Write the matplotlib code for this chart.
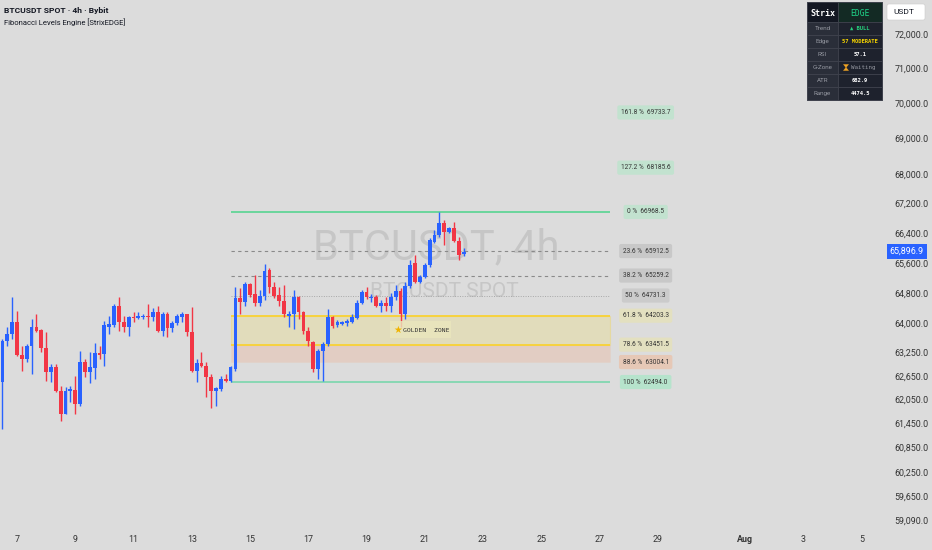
import numpy as np
import pandas as pd
import matplotlib
matplotlib.use("Agg")
import matplotlib.pyplot as plt
import matplotlib.dates as mdates
from matplotlib.patches import Rectangle, FancyBboxPatch, Polygon
from matplotlib.ticker import FixedLocator, NullLocator

# 4h candles, BTCUSDT spot (Bybit)
start = "2024-07-06 12:00"
opens = [62497, 63539, 63719, 64029, 63180, 63079, 63411, 63900, 63822, 63360,
         62749, 62876, 62270, 61694, 62270, 62295, 61944, 63003, 62749, 62850,
         63232, 63206, 63900, 63951, 64444, 64029, 63900, 64158, 64132, 64158,
         64184, 64158, 64288, 63796, 64236, 63874, 64003, 64158, 64236, 63771,
         62774, 62978, 62901, 62623, 62270, 62320, 62572, 62522, 62825, 64678,
         64574, 65045, 64783, 64522, 64730, 65415, 64966, 64757, 64600, 64184,
         64236, 64704, 64288, 63796, 63513, 62825, 63283, 63462, 64158, 63951,
         63977, 64003, 64029, 64132, 64548, 64835, 64678, 64704, 64444, 64548,
         64444, 64704, 64862, 64236, 64993, 65600, 65098, 65230, 65547, 66160,
         66347, 66671, 66428, 66536, 66186, 65840]
highs = [63590, 63900, 64704, 64314, 63411, 63462, 64106, 64236, 63848, 63771,
         62952, 62952, 62396, 62370, 62396, 62648, 63283, 63079, 63257, 63488,
         63411, 64054, 64184, 64496, 64704, 64184, 64184, 64288, 64288, 64236,
         64496, 64392, 64444, 64288, 64288, 64054, 64236, 64288, 64236, 64418,
         63079, 63257, 63003, 62698, 62370, 62648, 62698, 62901, 64966, 64940,
         65098, 65072, 65283, 64888, 65574, 65468, 65098, 64966, 65019, 64314,
         64888, 64730, 64314, 63900, 63539, 63334, 63513, 64366, 64184, 64080,
         64054, 64106, 64236, 64626, 64888, 64966, 64783, 64757, 64626, 64704,
         64809, 65019, 64940, 65098, 65680, 65813, 65283, 65600, 66267, 66482,
         66968.5, 66752, 66563, 66698, 66294, 65999]
lows = [61322, 63411, 63590, 63155, 62774, 63003, 62698, 63771, 63257, 62522,
        62496, 62245, 61520, 61694, 61994, 61694, 61894, 62623, 62471, 62572,
        63079, 62901, 63719, 63900, 63796, 63771, 63667, 64029, 64106, 64106,
        63900, 64054, 63771, 63667, 63641, 63771, 63951, 64029, 63667, 62749,
        62496, 62876, 62119, 61844, 61894, 62270, 62496, 62494, 62774, 64236,
        64444, 64704, 64444, 64444, 64626, 64809, 64678, 64444, 64158, 63900,
        63848, 64106, 63719, 63411, 62749, 62572, 62522, 63411, 63874, 63900,
        63951, 63925, 64003, 64106, 64496, 64652, 64574, 64418, 64288, 64314,
        64288, 64626, 63900, 64106, 64940, 65072, 65072, 65204, 65494, 66133,
        66294, 66079, 66401, 66160, 65680, 65786]
closes = [63539, 63719, 64029, 63180, 63079, 63411, 63900, 63796, 63360, 62749,
          62876, 62270, 61694, 62270, 62320, 61944, 63003, 62749, 62876, 63232,
          63180, 63951, 63977, 64444, 64029, 63900, 64158, 64132, 64184, 64184,
          64158, 64288, 63796, 64236, 63874, 64003, 64184, 64236, 63771, 62774,
          62978, 62901, 62623, 62270, 62345, 62572, 62522, 62876, 64678, 64574,
          65045, 64757, 64522, 64730, 65389, 64966, 64730, 64600, 64236, 64236,
          64704, 64288, 63796, 63539, 62825, 63283, 63462, 64158, 63925, 64029,
          64029, 64054, 64158, 64548, 64835, 64704, 64704, 64444, 64548, 64444,
          64704, 64862, 64236, 64993, 65547, 65098, 65230, 65547, 66213, 66347,
          66671, 66428, 66536, 66186, 65813, 65896.9]

# fibonacci levels
fib_pct = ["161.8", "127.2", "0", "23.6", "38.2", "50", "61.8", "78.6", "88.6", "100"]
fib_price = [69733.7, 68185.6, 66968.5, 65912.5, 65259.2, 64731.3, 64203.3, 63451.5, 63004.1, 62494.0]
fib_start = "2024-07-14 08:00"
fib_end = "2024-07-27 09:00"

price_ticks = [72000, 71000, 70000, 69000, 68000, 67200, 66400, 65600, 64800,
               64000, 63250, 62650, 62050, 61450, 60850, 60250, 59650, 59090]
date_ticks = ["2024-07-07", "2024-07-09", "2024-07-11", "2024-07-13", "2024-07-15",
              "2024-07-17", "2024-07-19", "2024-07-21", "2024-07-23", "2024-07-25",
              "2024-07-27", "2024-07-29", "2024-08-01", "2024-08-03", "2024-08-05"]
date_labels = ["7", "9", "11", "13", "15", "17", "19", "21", "23", "25", "27", "29", "Aug", "3", "5"]

table_rows = [("Trend", "▲ BULL"), ("Edge", "57 MODERATE"), ("RSI", "57.1"),
              ("G-Zone", "Waiting"), ("ATR", "682.9"), ("Range", "4474.5")]

BG = "#dcdcdc"
UP = "#2962ff"
DOWN = "#f23645"
SANS = ["Roboto", "DejaVu Sans"]
MONO = ["DejaVu Sans Mono", "DejaVu Sans"]

plt.rcParams["font.family"] = SANS

fig = plt.figure(figsize=(9.32, 5.5), dpi=100, facecolor=BG)
ax = fig.add_axes([0, 23 / 550, 885 / 932, 527 / 550], facecolor=BG)

t = mdates.date2num(pd.date_range(start, periods=len(opens), freq="4h"))
o = np.array(opens, float)
h = np.array(highs, float)
l = np.array(lows, float)
c = np.array(closes, float)
up = c >= o
cols = np.where(up, UP, DOWN)
w = 0.13

ax.vlines(t, l, h, colors=cols, linewidth=1.0, zorder=3)
bottoms = np.minimum(o, c)
heights = np.maximum(np.abs(c - o), 14)
ax.bar(t, heights, bottom=bottoms, width=w, color=cols, linewidth=0, zorder=4)

# fib box
x0 = mdates.date2num(pd.Timestamp(fib_start))
x1 = mdates.date2num(pd.Timestamp(fib_end))
lv = dict(zip(fib_pct, fib_price))
ax.add_patch(Rectangle((x0, lv["78.6"]), x1 - x0, lv["61.8"] - lv["78.6"],
                       facecolor="#eedd77", alpha=0.32, edgecolor="#f5d54a", linewidth=0.8, zorder=1))
ax.add_patch(Rectangle((x0, lv["88.6"]), x1 - x0, lv["78.6"] - lv["88.6"],
                       facecolor="#f4a27c", alpha=0.25, edgecolor="#e9c9b8", linewidth=0.5, zorder=1))
ax.hlines(lv["0"], x0, x1, color="#4cd38a", linewidth=1.1, zorder=2)
ax.hlines(lv["100"], x0, x1, color="#72d6a8", linewidth=1.1, zorder=2)
ax.hlines([lv["23.6"], lv["38.2"]], x0, x1, color="#8a8a8a", linewidth=0.8,
          linestyles=(0, (3, 3)), zorder=2)
ax.hlines(lv["50"], x0, x1, color="#a8a8a8", linewidth=0.7, linestyles=(0, (1, 1.5)), zorder=2)
ax.hlines([lv["61.8"], lv["78.6"]], x0, x1, color="#f7d23e", linewidth=1.4, zorder=2)

label_bg = {"161.8": "#c2e2cf", "127.2": "#c2e2cf", "0": "#c2e2cf", "23.6": "#c8c8c8",
            "38.2": "#c8c8c8", "50": "#cbcbcb", "61.8": "#e3e0c0", "78.6": "#e3e0c0",
            "88.6": "#e6c8b6", "100": "#b6e3cc"}
lx = mdates.date2num(pd.Timestamp("2024-07-28 14:00"))
for p, v in zip(fib_pct, fib_price):
    ax.text(lx, v, f"{p} %  {v:.1f}", fontsize=4.7, color="#333333", ha="center", va="center",
            zorder=6,
            bbox=dict(boxstyle="round,pad=0.55,rounding_size=0.3", fc=label_bg[p], ec="none"))

# golden zone tag
gz = (lv["61.8"] * lv["78.6"]) ** 0.5
gx = mdates.date2num(pd.Timestamp("2024-07-19 22:00"))
ax.add_patch(Rectangle((gx - 0.12, 64060), 2.1, 63630 - 64060, facecolor="#ebe7bd",
                       edgecolor="none", alpha=0.8, zorder=5))
ax.text(gx + 0.32, gz, "GOLDEN  ZONE", fontsize=4.6, color="#333333", ha="left", va="center",
        family=MONO, zorder=6)
ax.text(gx, gz, "★", fontsize=7, color="#f0b400", ha="left", va="center",
        family="DejaVu Sans", zorder=7)

# watermark
ax.text(0.493, 0.529, "BTCUSDT, 4h", transform=ax.transAxes, fontsize=30, color="#c6c6c6",
        ha="center", va="center", zorder=0)
ax.text(0.502, 0.446, "BTCUSDT SPOT", transform=ax.transAxes, fontsize=15, color="#c6c6c6",
        ha="center", va="center", zorder=0)

# axes setup
ax.set_yscale("log")
ax.set_ylim(58917, 72996)
ax.set_xlim(mdates.date2num(pd.Timestamp("2024-07-06 10:00")),
            mdates.date2num(pd.Timestamp("2024-08-05 19:12")))
ax.yaxis.tick_right()
ax.yaxis.set_major_locator(FixedLocator(price_ticks))
ax.yaxis.set_minor_locator(NullLocator())
ax.set_yticklabels([f"{v:,.1f}" for v in price_ticks])
ax.tick_params(axis="y", length=0, pad=7, labelsize=6.4, labelcolor="#333333")
ax.set_xticks(mdates.date2num(pd.to_datetime(date_ticks)))
ax.set_xticklabels(date_labels)
ax.tick_params(axis="x", length=0, pad=6, labelsize=6.4, labelcolor="#333333")
for lab in ax.get_xticklabels():
    if lab.get_text() == "Aug":
        lab.set_fontweight("bold")
for s in ax.spines.values():
    s.set_visible(False)

# last price tag
ax.text(1.0055, closes[-1], f"{closes[-1]:,.1f}", transform=ax.get_yaxis_transform(),
        fontsize=6.4, color="white", ha="left", va="center", clip_on=False, zorder=8,
        bbox=dict(boxstyle="square,pad=0.3", fc="#2962ff", ec="none"))

# overlay in pixel space: title, USDT box, table
ov = fig.add_axes([0, 0, 1, 1], facecolor="none")
ov.set_xlim(0, 932)
ov.set_ylim(550, 0)
ov.axis("off")

ov.text(4, 10, "BTCUSDT SPOT · 4h · Bybit", fontsize=6.1, fontweight="bold", color="#131722",
        va="center", ha="left")
ov.text(4, 22, "Fibonacci Levels Engine [StrixEDGE]", fontsize=5.5, color="#131722",
        va="center", ha="left")

ov.add_patch(FancyBboxPatch((887, 4), 38, 16, boxstyle="round,pad=0,rounding_size=2",
                            fc="white", ec="#cccccc", lw=0.4))
ov.text(893, 12, "USDT", fontsize=6, color="#131722", va="center", ha="left")

tx0, tx1, tsplit = 807, 882, 838
ov.add_patch(Rectangle((tx0, 2), tx1 - tx0, 98, fc="#1e222d", ec="#434651", lw=0.6))
ov.add_patch(Rectangle((tx0, 2), tsplit - tx0, 20, fc="#131722", ec="#434651", lw=0.5))
ov.add_patch(Rectangle((tsplit, 2), tx1 - tsplit, 20, fc="#132a24", ec="#434651", lw=0.5))
ov.text((tx0 + tsplit) / 2, 13, "Strix", fontsize=6, fontweight="bold", color="white",
        family=MONO, ha="center", va="center")
ov.text((tsplit + tx1) / 2, 13, "EDGE", fontsize=5.8, color="#1fd68a", family=MONO,
        ha="center", va="center")
val_colors = ["#26d07c", "#f5d300", "white", "#9598a1", "white", "white"]
for k, (name, val) in enumerate(table_rows):
    y0 = 22 + k * 13
    yc = y0 + 6.5
    ov.add_patch(Rectangle((tx0, y0), tsplit - tx0, 13, fc="#2a2e39", ec="#434651", lw=0.5))
    ov.add_patch(Rectangle((tsplit, y0), tx1 - tsplit, 13, fc="#1e222d", ec="#434651", lw=0.5))
    ov.text((tx0 + tsplit) / 2, yc, name, fontsize=4.5, color="#9598a1",
            ha="center", va="center")
    if name == "G-Zone":
        # hourglass icon (no installed font carries the glyph)
        ov.add_patch(Polygon([(843.5, yc - 3), (848.5, yc - 3), (846, yc), (848.5, yc + 3),
                              (843.5, yc + 3), (846, yc)], closed=True, fc="#f5a623",
                             ec="#f5a623", lw=0.3))
        ov.text(851, yc, val, fontsize=4.2, color=val_colors[k], family=MONO,
                ha="left", va="center")
    else:
        ov.text((tsplit + tx1) / 2, yc, val, fontsize=4.0, color=val_colors[k],
                family=MONO, fontweight="bold", ha="center", va="center")

fig.savefig("out.png", dpi=100, facecolor=BG)
